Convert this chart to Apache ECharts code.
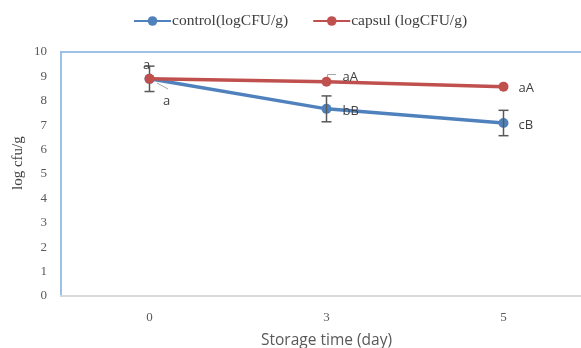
<!DOCTYPE html>
<html><head><meta charset="utf-8">
<script src="https://cdn.jsdelivr.net/npm/echarts@6/dist/echarts.min.js"></script>
<style>html,body{margin:0;padding:0;background:#fff;overflow:hidden;width:581px;height:348px}#c{width:592px;height:348px}</style>
</head><body><div id="c"></div>
<script>
var categories = ['0', '3', '5'];
var controlValues = [8.9, 7.67, 7.09];
var capsulValues = [8.9, 8.78, 8.58];
var controlErr = [0.52, 0.53, 0.52];
var controlLabels = ['a', 'bB', 'cB'];
var capsulLabels = ['a', 'aA', 'aA'];
var yTicks = [0, 1, 2, 3, 4, 5, 6, 7, 8, 9, 10];

var chart = echarts.init(document.getElementById('c'));
var serif = '"Liberation Serif","Times New Roman",serif';
var sans = '"Open Sans","Noto Sans",sans-serif';

var errData = controlValues.map(function (v, i) { return [i, v - controlErr[i], v + controlErr[i]]; });

var ctrlLabelCfg = [
  {position: 'bottom', offset: [17, 6]},
  {position: 'right', offset: [6, 2]},
  {position: 'right', offset: [5, 2]}
];
var capLabelCfg = [
  {position: 'top', offset: [-3, 3]},
  {position: 'right', offset: [6, -4]},
  {position: 'right', offset: [5, 2]}
];

function buildData(vals, labels, cfg) {
  return vals.map(function (v, i) {
    return {
      value: v,
      label: {show: true, formatter: labels[i], position: cfg[i].position, offset: cfg[i].offset}
    };
  });
}

chart.setOption({
  animation: false,
  legend: {
    top: 8, left: 128,
    itemWidth: 37, itemHeight: 12, itemGap: 24,
    textStyle: {fontFamily: serif, fontSize: 15.5, color: '#404040', padding: [0, 0, 0, -4]},
    data: ['control(logCFU/g)', 'capsul (logCFU/g)']
  },
  grid: {left: 61, top: 52, right: 0, height: 244, outerBoundsMode: 'none', containLabel: false,
         show: true, borderColor: '#9BC2E6', borderWidth: 2},
  graphic: [
    {type: 'text', x: 11, y: 190, rotation: Math.PI / 2,
     style: {text: 'log cfu/g', font: '15px ' + serif, fill: '#404040', textAlign: 'left', textVerticalAlign: 'top'}},
    {type: 'line', shape: {x1: 157, y1: 83, x2: 168, y2: 89}, style: {stroke: '#A6A6A6', lineWidth: 1}},
    {type: 'polyline', shape: {points: [[327.5, 79], [327.5, 74.5], [336, 74.5]]}, style: {stroke: '#A6A6A6', lineWidth: 1, fill: null}}
  ],
  xAxis: {
    type: 'category', data: categories, boundaryGap: true,
    axisLine: {show: true, lineStyle: {color: '#D9D9D9', width: 2}},
    axisTick: {show: false},
    axisLabel: {fontFamily: serif, fontSize: 13, color: '#595959', margin: 15},
    name: 'Storage time (day)', nameLocation: 'middle', nameGap: 37,
    nameTextStyle: {fontFamily: sans, fontSize: 15.5, color: '#595959'}
  },
  yAxis: {
    type: 'value', min: 0, max: 10, interval: 1,
    axisLine: {show: true, lineStyle: {color: '#9BC2E6', width: 2}},
    axisTick: {show: false},
    splitLine: {show: false},
    axisLabel: {fontFamily: serif, fontSize: 13, color: '#595959', margin: 14,
      formatter: function (v) { return yTicks.indexOf(v) >= 0 ? String(v) : ''; }}
  },
  series: [
    {
      name: 'control(logCFU/g)', type: 'line', data: buildData(controlValues, controlLabels, ctrlLabelCfg),
      symbol: 'circle', symbolSize: 10, color: '#4F81BD',
      lineStyle: {width: 3.5, color: '#4F81BD'}, itemStyle: {color: '#4F81BD'},
      label: {fontFamily: sans, fontSize: 13, color: '#404040'}, z: 3
    },
    {
      type: 'custom', name: 'err', data: errData, z: 4,
      renderItem: function (params, api) {
        var x = api.coord([api.value(0), api.value(1)])[0];
        var lo = api.coord([api.value(0), api.value(1)])[1];
        var hi = api.coord([api.value(0), api.value(2)])[1];
        var s = {stroke: '#595959', lineWidth: 1.5};
        return {type: 'group', children: [
          {type: 'line', shape: {x1: x, y1: lo, x2: x, y2: hi}, style: s},
          {type: 'line', shape: {x1: x - 5, y1: lo, x2: x + 5, y2: lo}, style: s},
          {type: 'line', shape: {x1: x - 5, y1: hi, x2: x + 5, y2: hi}, style: s}
        ]};
      }
    },
    {
      name: 'capsul (logCFU/g)', type: 'line', data: buildData(capsulValues, capsulLabels, capLabelCfg),
      symbol: 'circle', symbolSize: 10, color: '#C0504D',
      lineStyle: {width: 3.5, color: '#C0504D'}, itemStyle: {color: '#C0504D'},
      label: {fontFamily: sans, fontSize: 13, color: '#404040'}, z: 5
    }
  ]
});
</script></body></html>
